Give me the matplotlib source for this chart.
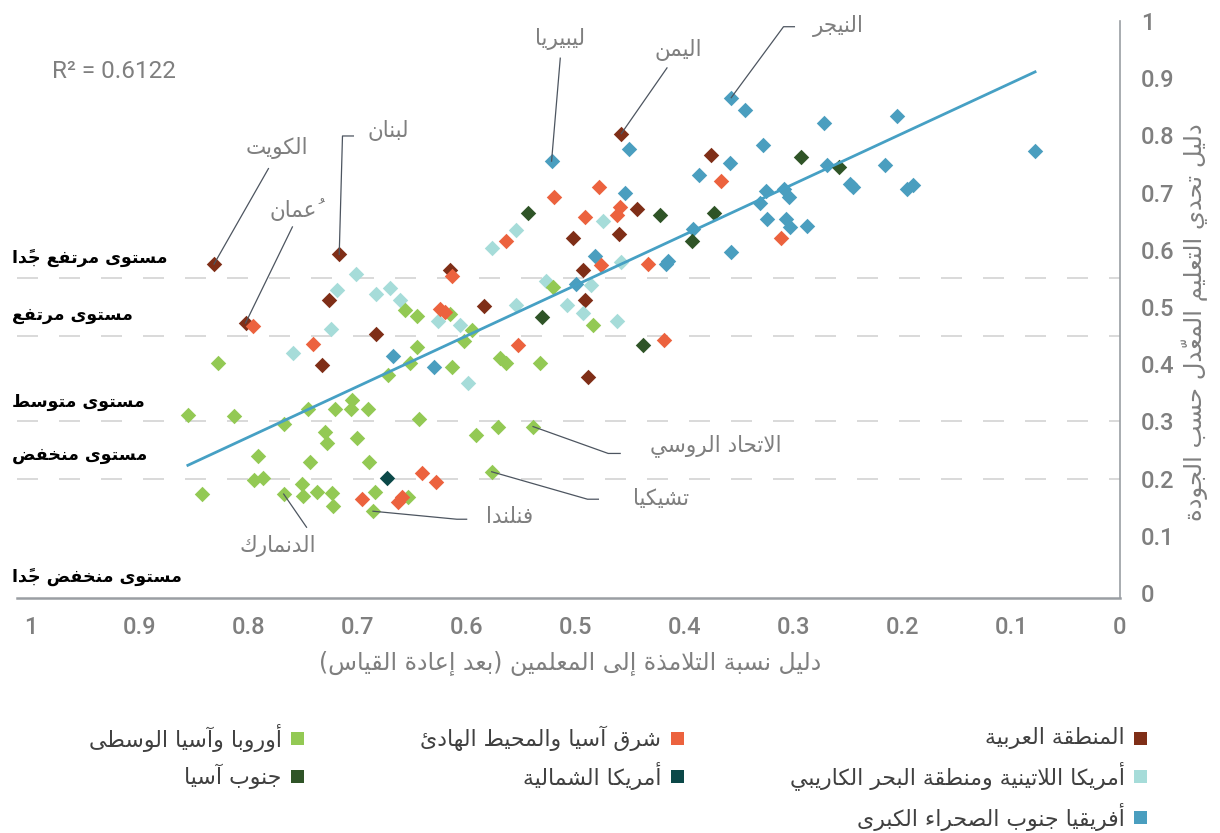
import matplotlib
matplotlib.use('Agg')
import matplotlib.pyplot as plt
from matplotlib.patches import Rectangle
import numpy as np

# ---- data ----
arab_x = [0.832, 0.717, 0.803, 0.458, 0.726, 0.683, 0.733, 0.615, 0.584, 0.376, 0.444, 0.502, 0.460, 0.493, 0.491, 0.489]
arab_y = [0.575, 0.592, 0.472, 0.803, 0.513, 0.453, 0.398, 0.564, 0.502, 0.766, 0.671, 0.620, 0.628, 0.565, 0.513, 0.377]

eap_x = [0.796, 0.741, 0.613, 0.624, 0.620, 0.520, 0.478, 0.491, 0.459, 0.462, 0.564, 0.477, 0.433, 0.366, 0.311,
         0.553, 0.419, 0.641, 0.628, 0.696, 0.663, 0.659]
eap_y = [0.467, 0.436, 0.554, 0.497, 0.492, 0.693, 0.710, 0.658, 0.674, 0.660, 0.616, 0.574, 0.575, 0.721, 0.621,
         0.433, 0.443, 0.209, 0.194, 0.164, 0.159, 0.168]

lac_x = [0.702, 0.719, 0.683, 0.670, 0.661, 0.725, 0.759, 0.626, 0.606, 0.599, 0.577, 0.555, 0.475, 0.458, 0.527,
         0.486, 0.508, 0.493, 0.462, 0.555]
lac_y = [0.558, 0.530, 0.523, 0.534, 0.513, 0.461, 0.420, 0.475, 0.468, 0.368, 0.603, 0.635, 0.651, 0.578, 0.545,
         0.538, 0.503, 0.489, 0.475, 0.503]

ssa_x = [0.522, 0.357, 0.344, 0.451, 0.455, 0.482, 0.500, 0.387, 0.358, 0.328, 0.331, 0.325, 0.309, 0.304, 0.324,
         0.307, 0.303, 0.287, 0.357, 0.417, 0.415, 0.392, 0.272, 0.205, 0.078, 0.269, 0.216, 0.248, 0.245, 0.196,
         0.190, 0.668, 0.630]
ssa_y = [0.755, 0.866, 0.845, 0.776, 0.699, 0.589, 0.540, 0.731, 0.751, 0.783, 0.682, 0.703, 0.707, 0.692, 0.654,
         0.653, 0.640, 0.641, 0.596, 0.575, 0.581, 0.637, 0.821, 0.834, 0.772, 0.748, 0.748, 0.715, 0.709, 0.707,
         0.714, 0.415, 0.396]

sas_x = [0.544, 0.422, 0.373, 0.293, 0.393, 0.531, 0.258, 0.438]
sas_y = [0.664, 0.661, 0.665, 0.762, 0.616, 0.483, 0.745, 0.433]

nam_x = [0.673]
nam_y = [0.201]

eca_x = [0.828, 0.856, 0.814, 0.746, 0.721, 0.705, 0.706, 0.691, 0.768, 0.672, 0.657, 0.646, 0.646, 0.652, 0.644,
         0.730, 0.728, 0.701, 0.792, 0.744, 0.690, 0.795, 0.787, 0.843, 0.768, 0.751, 0.750, 0.737, 0.724, 0.723,
         0.684, 0.686, 0.654, 0.615, 0.595, 0.602, 0.613, 0.569, 0.564, 0.533, 0.484, 0.571, 0.591, 0.539, 0.577,
         0.521]
eca_y = [0.402, 0.312, 0.309, 0.322, 0.322, 0.337, 0.321, 0.322, 0.295, 0.381, 0.495, 0.485, 0.430, 0.402, 0.305,
         0.282, 0.262, 0.271, 0.239, 0.229, 0.229, 0.198, 0.201, 0.173, 0.173, 0.191, 0.170, 0.176, 0.174, 0.152,
         0.177, 0.143, 0.167, 0.488, 0.460, 0.440, 0.395, 0.411, 0.402, 0.402, 0.468, 0.291, 0.277, 0.291, 0.212,
         0.535]

trend_slope = -0.884
trend_intercept = 0.980
r2_text = 'R² = 0.6122'

level_lines = [0.2, 0.3, 0.45, 0.55]
level_names = ['مستوى مرتفع جدًا', 'مستوى مرتفع', 'مستوى متوسط', 'مستوى منخفض', 'مستوى منخفض جدًا']

x_ticks = [1, 0.9, 0.8, 0.7, 0.6, 0.5, 0.4, 0.3, 0.2, 0.1, 0]
x_ticklabels = ['1', '0.9', '0.8', '0.7', '0.6', '0.5', '0.4', '0.3', '0.2', '0.1', '0']
y_ticks = [0, 0.1, 0.2, 0.3, 0.4, 0.5, 0.6, 0.7, 0.8, 0.9, 1]
y_ticklabels = ['0', '0.1', '0.2', '0.3', '0.4', '0.5', '0.6', '0.7', '0.8', '0.9', '1']

x_title = 'دليل نسبة التلامذة إلى المعلمين (بعد إعادة القياس)'
y_title = 'دليل تحدي التعليم المعدّل حسب الجودة'

# region name, colour, x, y
series = [
    ('أفريقيا جنوب الصحراء الكبرى', '#4A9EBF', ssa_x, ssa_y),
    ('المنطقة العربية', '#7F2E17', arab_x, arab_y),
    ('أمريكا اللاتينية ومنطقة البحر الكاريبي', '#A6DCD9', lac_x, lac_y),
    ('أوروبا وآسيا الوسطى', '#93C954', eca_x, eca_y),
    ('شرق آسيا والمحيط الهادئ', '#EC623E', eap_x, eap_y),
    ('جنوب آسيا', '#2F5427', sas_x, sas_y),
    ('أمريكا الشمالية', '#0B4848', nam_x, nam_y),
]

# ---- minimal arabic shaping (matplotlib has no bidi / joining) ----
AR_FORMS = {
    '\u0621': (0xFE80, 1), '\u0622': (0xFE81, 2), '\u0623': (0xFE83, 2), '\u0624': (0xFE85, 2),
    '\u0625': (0xFE87, 2), '\u0626': (0xFE89, 4), '\u0627': (0xFE8D, 2), '\u0628': (0xFE8F, 4),
    '\u0629': (0xFE93, 2), '\u062A': (0xFE95, 4), '\u062B': (0xFE99, 4), '\u062C': (0xFE9D, 4),
    '\u062D': (0xFEA1, 4), '\u062E': (0xFEA5, 4), '\u062F': (0xFEA9, 2), '\u0630': (0xFEAB, 2),
    '\u0631': (0xFEAD, 2), '\u0632': (0xFEAF, 2), '\u0633': (0xFEB1, 4), '\u0634': (0xFEB5, 4),
    '\u0635': (0xFEB9, 4), '\u0636': (0xFEBD, 4), '\u0637': (0xFEC1, 4), '\u0638': (0xFEC5, 4),
    '\u0639': (0xFEC9, 4), '\u063A': (0xFECD, 4), '\u0641': (0xFED1, 4), '\u0642': (0xFED5, 4),
    '\u0643': (0xFED9, 4), '\u0644': (0xFEDD, 4), '\u0645': (0xFEE1, 4), '\u0646': (0xFEE5, 4),
    '\u0647': (0xFEE9, 4), '\u0648': (0xFEED, 2), '\u0649': (0xFEEF, 2), '\u064A': (0xFEF1, 4),
}
LAM_ALEF = {'\u0622': 0xFEF5, '\u0623': 0xFEF7, '\u0625': 0xFEF9, '\u0627': 0xFEFB}


def joins_next(b):
    return (not b.startswith('LA')) and b in AR_FORMS and AR_FORMS[b][1] == 4


def joins_prev(b):
    return b.startswith('LA') or (b in AR_FORMS and AR_FORMS[b][1] >= 2)


def ar(text):
    clusters = []
    for ch in text:
        if 0x064B <= ord(ch) <= 0x0652 and clusters:
            clusters[-1][1] += ch
        else:
            clusters.append([ch, ''])
    merged = []
    i = 0
    while i < len(clusters):
        b, m = clusters[i]
        if b == '\u0644' and i + 1 < len(clusters) and clusters[i + 1][0] in LAM_ALEF:
            merged.append(['LA' + clusters[i + 1][0], m + clusters[i + 1][1]])
            i += 2
        else:
            merged.append([b, m])
            i += 1
    out = []
    for i, (b, m) in enumerate(merged):
        pj = i > 0 and joins_next(merged[i - 1][0]) and joins_prev(b)
        nj = i + 1 < len(merged) and joins_next(b) and joins_prev(merged[i + 1][0])
        if b.startswith('LA'):
            g = chr(LAM_ALEF[b[2]] + (1 if pj else 0))
        elif b in AR_FORMS:
            start, n = AR_FORMS[b]
            if n == 4:
                idx = 3 if (pj and nj) else 1 if pj else 2 if nj else 0
            elif n == 2:
                idx = 1 if pj else 0
            else:
                idx = 0
            g = chr(start + idx)
        else:
            g = b
        out.append(g + m)
    mirror = {'(': ')', ')': '('}
    return ''.join(''.join(mirror.get(c, c) for c in cl) for cl in reversed(out))


AR_FONT = 'DejaVu Sans'
NUM_FONT = ['Roboto', 'DejaVu Sans']
GREY = '#7F7F7F'

fig = plt.figure(figsize=(12.2, 8.33), dpi=100)
ax = fig.add_axes([17 / 1220, 235 / 833, 1103 / 1220, 577 / 833])

for name, color, xs, ys in series:
    ax.scatter(xs, ys, marker='D', s=62, color=color, linewidths=0, zorder=3)

all_x = np.concatenate([np.array(s[2]) for s in series])
tx = np.array([all_x.min(), all_x.max()])
ax.plot(tx, trend_slope * tx + trend_intercept, color='#46A0C4', lw=2.0, zorder=4)

for lv in level_lines:
    ax.axhline(lv, color='#D9D9D9', lw=1.4, dashes=(10.8, 10.8), zorder=1)

ax.set_xlim(1.0129, 0)
ax.set_ylim(-0.0087, 1.0)
ax.set_xticks(x_ticks)
ax.set_xticklabels(x_ticklabels)
ax.set_yticks(y_ticks)
ax.set_yticklabels(y_ticklabels)
ax.yaxis.tick_right()
ax.tick_params(axis='both', length=0, colors=GREY, labelsize=17)
ax.tick_params(axis='x', pad=13)
ax.tick_params(axis='y', pad=15)
for lab in ax.get_xticklabels() + ax.get_yticklabels():
    lab.set_fontfamily(NUM_FONT)
    lab.set_fontweight('medium')
for sp in ['left', 'top']:
    ax.spines[sp].set_visible(False)
ax.spines['bottom'].set_color('#9A9EA3')
ax.spines['bottom'].set_linewidth(1.8)
ax.spines['right'].set_color('#9A9EA3')
ax.spines['right'].set_linewidth(1.2)

ax.text(0.981, 0.911, r2_text, ha='left', va='center', fontsize=17.5, color=GREY, family=NUM_FONT)

# country call-outs: (series index, point index, label, text pos, leader path)
callouts = [
    (1, 0, 'الكويت', (0.774, 0.778), [(0.782, 0.742)]),
    (1, 1, 'لبنان', (0.672, 0.808), [(0.714, 0.799), (0.704, 0.799)]),
    (1, 2, 'عُمان', (0.759, 0.670), [(0.760, 0.640)]),
    (0, 0, 'ليبيريا', (0.514, 0.968), [(0.514, 0.935)]),
    (1, 3, 'اليمن', (0.406, 0.950), [(0.416, 0.918)]),
    (0, 1, 'النيجر', (0.259, 0.992), [(0.309, 0.990), (0.299, 0.990)]),
    (3, 43, 'الاتحاد الروسي', (0.371, 0.257), [(0.470, 0.244), (0.459, 0.244)]),
    (3, 44, 'تشيكيا', (0.421, 0.164), [(0.489, 0.164), (0.479, 0.164)]),
    (3, 31, 'فنلندا', (0.561, 0.133), [(0.609, 0.129), (0.600, 0.129)]),
    (3, 24, 'الدنمارك', (0.773, 0.082), [(0.747, 0.115)]),
]
for si, pi, label, (lx, ly), path in callouts:
    px, py = series[si][2][pi], series[si][3][pi]
    pts = [(px, py)] + path
    ax.plot([p[0] for p in pts], [p[1] for p in pts], color='#4D5560', lw=0.9, zorder=5)
    ax.text(lx, ly, ar(label), ha='center', va='center', fontsize=15.5, color=GREY, family=AR_FONT, zorder=6)

# level names on the left
level_y = [258, 315, 402, 455, 577]
for name, py in zip(level_names, level_y):
    fig.text(12 / 1220, 1 - py / 833, ar(name), ha='left', va='center', fontsize=12.5,
             fontweight='bold', color='black', family=AR_FONT)

# axis titles
fig.text(570 / 1220, 1 - 664 / 833, ar(x_title), ha='center', va='center', fontsize=17,
         color=GREY, family=AR_FONT)
fig.text(1195 / 1220, 1 - 322 / 833, ar(y_title), ha='center', va='center', fontsize=17.5,
         color=GREY, family=AR_FONT, rotation=90)

# legend laid out right-to-left in three columns
legend_slots = {
    'المنطقة العربية': (1140, 738),
    'أمريكا اللاتينية ومنطقة البحر الكاريبي': (1140, 776),
    'أفريقيا جنوب الصحراء الكبرى': (1140, 817),
    'شرق آسيا والمحيط الهادئ': (677, 738),
    'أمريكا الشمالية': (677, 776),
    'أوروبا وآسيا الوسطى': (297, 738),
    'جنوب آسيا': (297, 776),
}
sq = 13
for name, color, xs, ys in series:
    cx, cy = legend_slots[name]
    fig.add_artist(Rectangle(((cx - sq / 2) / 1220, 1 - (cy + sq / 2) / 833), sq / 1220, sq / 833,
                             transform=fig.transFigure, facecolor=color, edgecolor='none'))
    fig.text((cx - sq / 2 - 9) / 1220, 1 - cy / 833, ar(name), ha='right', va='center',
             fontsize=15.8, color='#404040', family=AR_FONT)

fig.savefig('out.png', dpi=100)
